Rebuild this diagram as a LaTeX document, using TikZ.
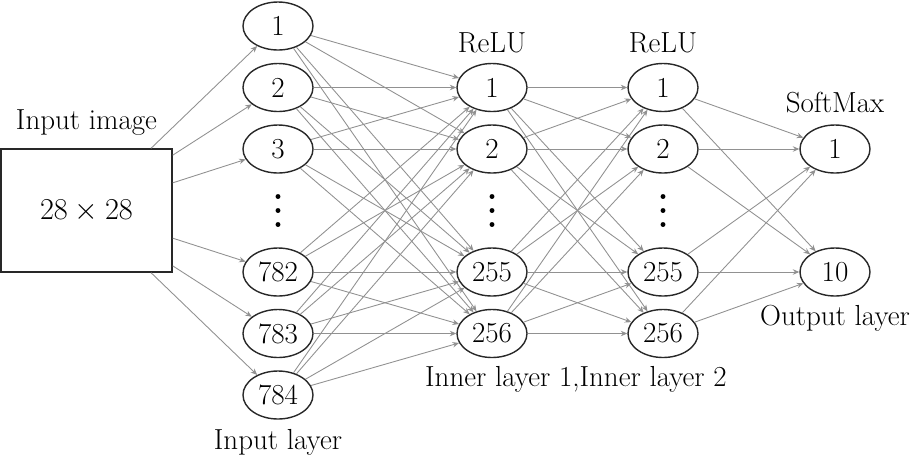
\documentclass[tikz,border=0pt]{standalone}
\usepackage{tikz}
\usetikzlibrary{shapes.geometric, arrows.meta, positioning}
\usepackage{xcolor}
\usepackage{amsmath}
\definecolor{colLine}{RGB}{145,145,145}
\definecolor{colBorder}{RGB}{40,40,40}
\tikzset{
    neuron/.style={ellipse, draw=colBorder, line width=0.8pt, inner sep=0pt,
        minimum width=1.4cm, minimum height=0.96cm, font=\fontsize{16.5}{19}\selectfont},
    imgbox/.style={rectangle, draw=colBorder, line width=0.8pt,
        minimum width=3.42cm, minimum height=2.46cm, font=\fontsize{16}{19}\selectfont},
    layertext/.style={font=\fontsize{16.5}{19}\selectfont},
    dotsnode/.style={inner sep=0pt, minimum width=0.2cm, minimum height=0.7cm,
        path picture={\foreach \d in {-0.28,0,0.28}
            \fill[black] ([yshift=\d cm]path picture bounding box.center) circle (1.4pt);}},
    conn/.style={-{Stealth[length=1.3mm, width=1.1mm]}, draw=colLine, line width=0.5pt}
}

\begin{document}
\begin{tikzpicture}[node distance=1.23cm and 4.28cm, on grid]

    \useasboundingbox (-5.56,0.52) rectangle (12.74,-8.56);

    % input layer
    \node[neuron] (in1) at (0,0) {1};
    \node[neuron, below=of in1] (in2) {2};
    \node[neuron, below=of in2] (in3) {3};
    \node[dotsnode, below=of in3] (indots) {};
    \node[neuron, below=of indots] (in782) {782};
    \node[neuron, below=of in782] (in783) {783};
    \node[neuron, below=of in783] (in784) {784};

    \node[imgbox, left=3.83cm of indots] (img) {$28\times28$};

    % inner layer 1
    \node[neuron, right=of in2] (ha1) {1};
    \node[neuron, right=of in3] (ha2) {2};
    \node[dotsnode, right=of indots] (hadots) {};
    \node[neuron, right=of in782] (ha255) {255};
    \node[neuron, right=of in783] (ha256) {256};

    % inner layer 2
    \node[neuron, right=3.42cm of ha1] (hb1) {1};
    \node[neuron, right=3.42cm of ha2] (hb2) {2};
    \node[dotsnode, right=3.42cm of hadots] (hbdots) {};
    \node[neuron, right=3.42cm of ha255] (hb255) {255};
    \node[neuron, right=3.42cm of ha256] (hb256) {256};

    % output layer
    \node[neuron, right=3.44cm of hb2] (out1) {1};
    \node[neuron, right=3.44cm of hb255] (out10) {10};

    % texts
    \node[layertext, above=1.75cm of img] (imgtext) {Input image};
    \node[layertext, below=0.94cm of in784] (intext) {Input layer};
    \node[layertext, above=0.9cm of ha1] (relua) {ReLU};
    \node[layertext, above=0.9cm of hb1] (relub) {ReLU};
    \node[layertext, above=0.92cm of out1] (softmax) {SoftMax};
    \node[layertext, below=0.92cm of out10] (outtext) {Output layer};
    \node[layertext, below=0.92cm of ha256, xshift=1.68cm] (innertext) {Inner layer 1,Inner layer 2};

    \foreach \i in {in1,in2,in3,in782,in783,in784} {
        \draw[conn] (img) -- (\i);
        \foreach \j in {ha1,ha2,ha255,ha256}
            \draw[conn] (\i) -- (\j);
    }
    \foreach \i in {ha1,ha2,ha255,ha256}
        \foreach \j in {hb1,hb2,hb255,hb256}
            \draw[conn] (\i) -- (\j);
    \foreach \i in {hb1,hb2,hb255,hb256}
        \foreach \j in {out1,out10}
            \draw[conn] (\i) -- (\j);

\end{tikzpicture}
\end{document}
